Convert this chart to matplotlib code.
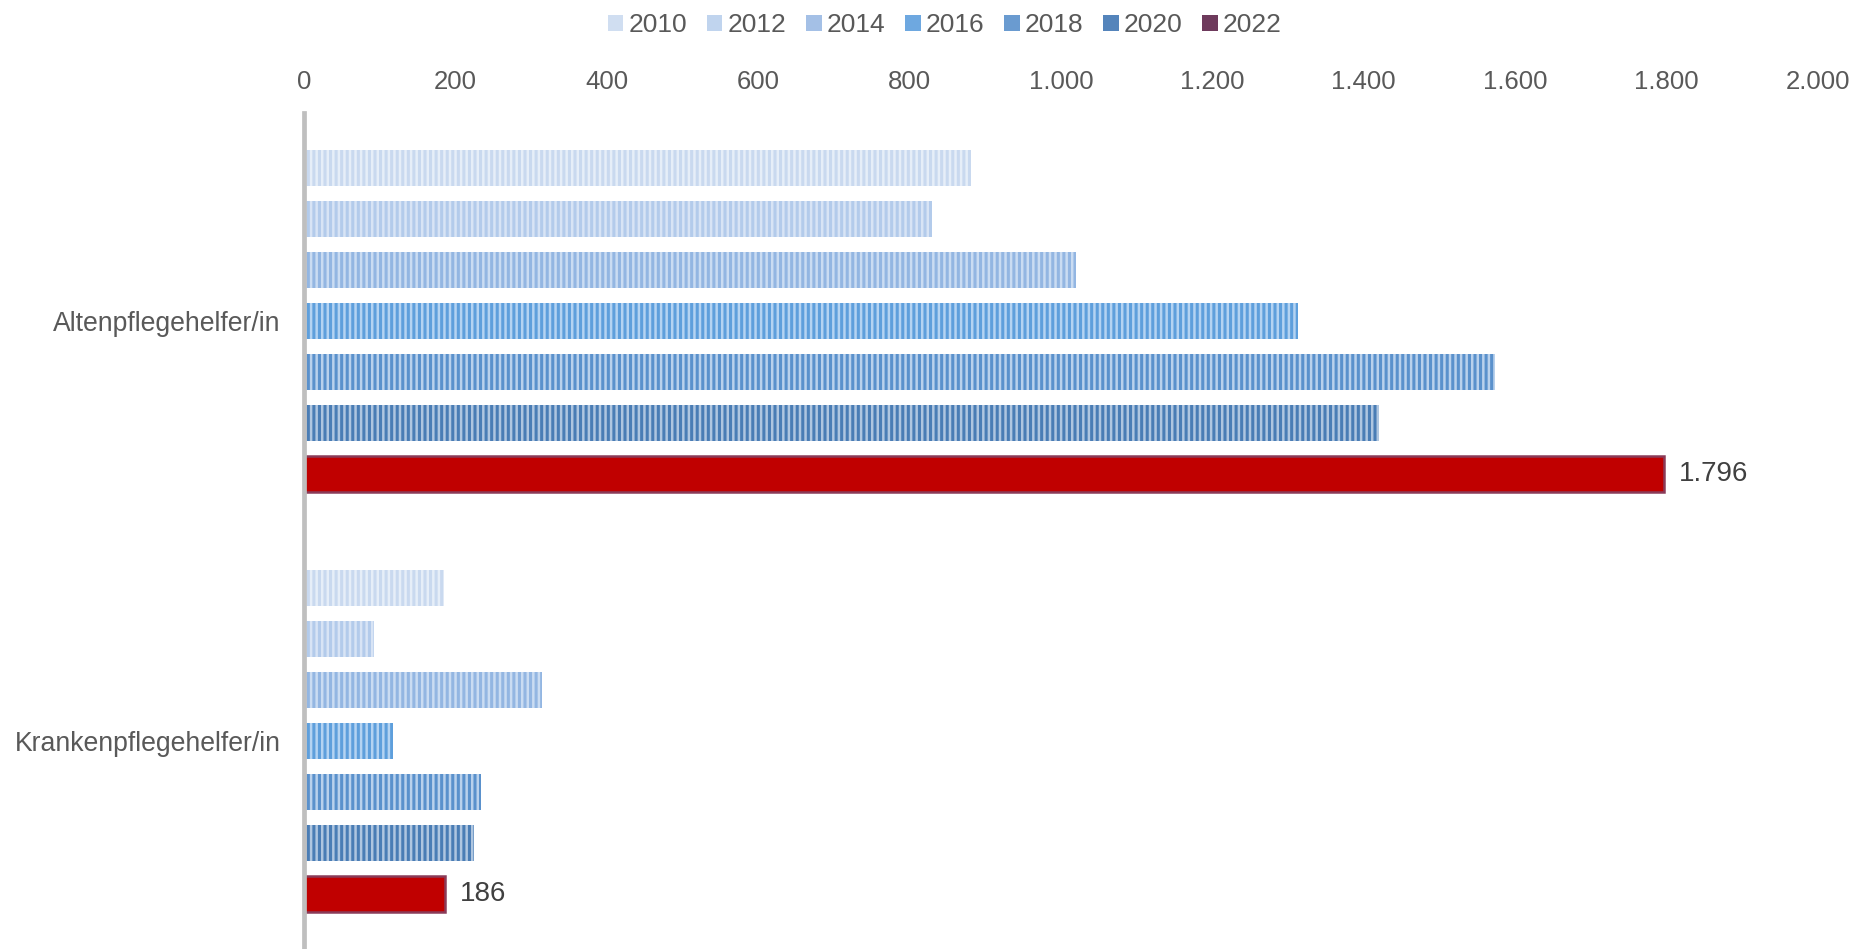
import numpy as np
import matplotlib.pyplot as plt
from matplotlib.patches import Patch
from matplotlib.ticker import FuncFormatter

plt.rcParams['font.family'] = ['Liberation Sans', 'DejaVu Sans']
plt.rcParams['hatch.linewidth'] = 2.2

# data
categories = ['Altenpflegehelfer/in', 'Krankenpflegehelfer/in']
years = ['2010', '2012', '2014', '2016', '2018', '2020', '2022']
alten = [881, 830, 1020, 1313, 1573, 1420, 1796]
kranken = [185, 93, 315, 118, 234, 224, 186]
values = np.array([alten, kranken])

# base colour, stripe colour per year
base_cols = ['#E6EEF8', '#D8E4F5', '#CADCF2', '#B4D3F2', '#B9D1EC', '#AFC6E0', '#C00000']
stripe_cols = ['#C9D9EF', '#B3CBEB', '#93B6E2', '#5E9FDC', '#5A91CC', '#4A7DB5', '#C00000']
legend_cols = ['#D0DEF1', '#C0D4EE', '#A4C0E6', '#6EA8E0', '#6A9BD0', '#5484BB', '#6E3A5C']

fig = plt.figure(figsize=(18.59, 9.49), dpi=100)
ax = fig.add_axes([304 / 1859, 0, (1818 - 304) / 1859, 1 - 113 / 949])

step = 0.1215
h = 0.085
y = np.arange(len(categories))
for i, yr in enumerate(years):
    pos = y + (i - 3) * step
    if yr == '2022':
        bars = ax.barh(pos, values[:, i], height=h, color=base_cols[i],
                       edgecolor='#8A3B58', linewidth=1.8, zorder=2)
        for b, v in zip(bars, values[:, i]):
            ax.text(v + 20, b.get_y() + h / 2, f'{v:,}'.replace(',', '.'),
                    va='center', ha='left', fontsize=20, color='#404040')
    else:
        ax.barh(pos, values[:, i], height=h, color=base_cols[i],
                edgecolor=stripe_cols[i], linewidth=0, hatch='|||', zorder=2)

ax.set_xlim(0, 2000)
ax.set_ylim(1.495, -0.495)
ax.set_xticks(np.arange(0, 2001, 200))
ax.xaxis.set_major_formatter(FuncFormatter(lambda v, p: f'{int(v):,}'.replace(',', '.')))
ax.xaxis.tick_top()
ax.tick_params(axis='x', length=0, pad=14, labelsize=18.5, labelcolor='#595959')
ax.set_yticks(y)
ax.set_yticklabels(categories)
ax.tick_params(axis='y', length=0, pad=17, labelsize=19.2, labelcolor='#595959')

for s in ['top', 'right', 'bottom']:
    ax.spines[s].set_visible(False)
ax.spines['left'].set_color('#BFBFBF')
ax.spines['left'].set_linewidth(3.4)
ax.spines['left'].set_zorder(3)

handles = [Patch(facecolor=c, edgecolor='none') for c in legend_cols]
fig.legend(handles, years, loc='center', bbox_to_anchor=(945 / 1859, 1 - 25 / 949),
           ncol=7, frameon=False, fontsize=19, labelcolor='#595959',
           handlelength=0.58, handleheight=0.55, handletextpad=0.2, columnspacing=0.75)

fig.savefig('out.png', dpi=100)
